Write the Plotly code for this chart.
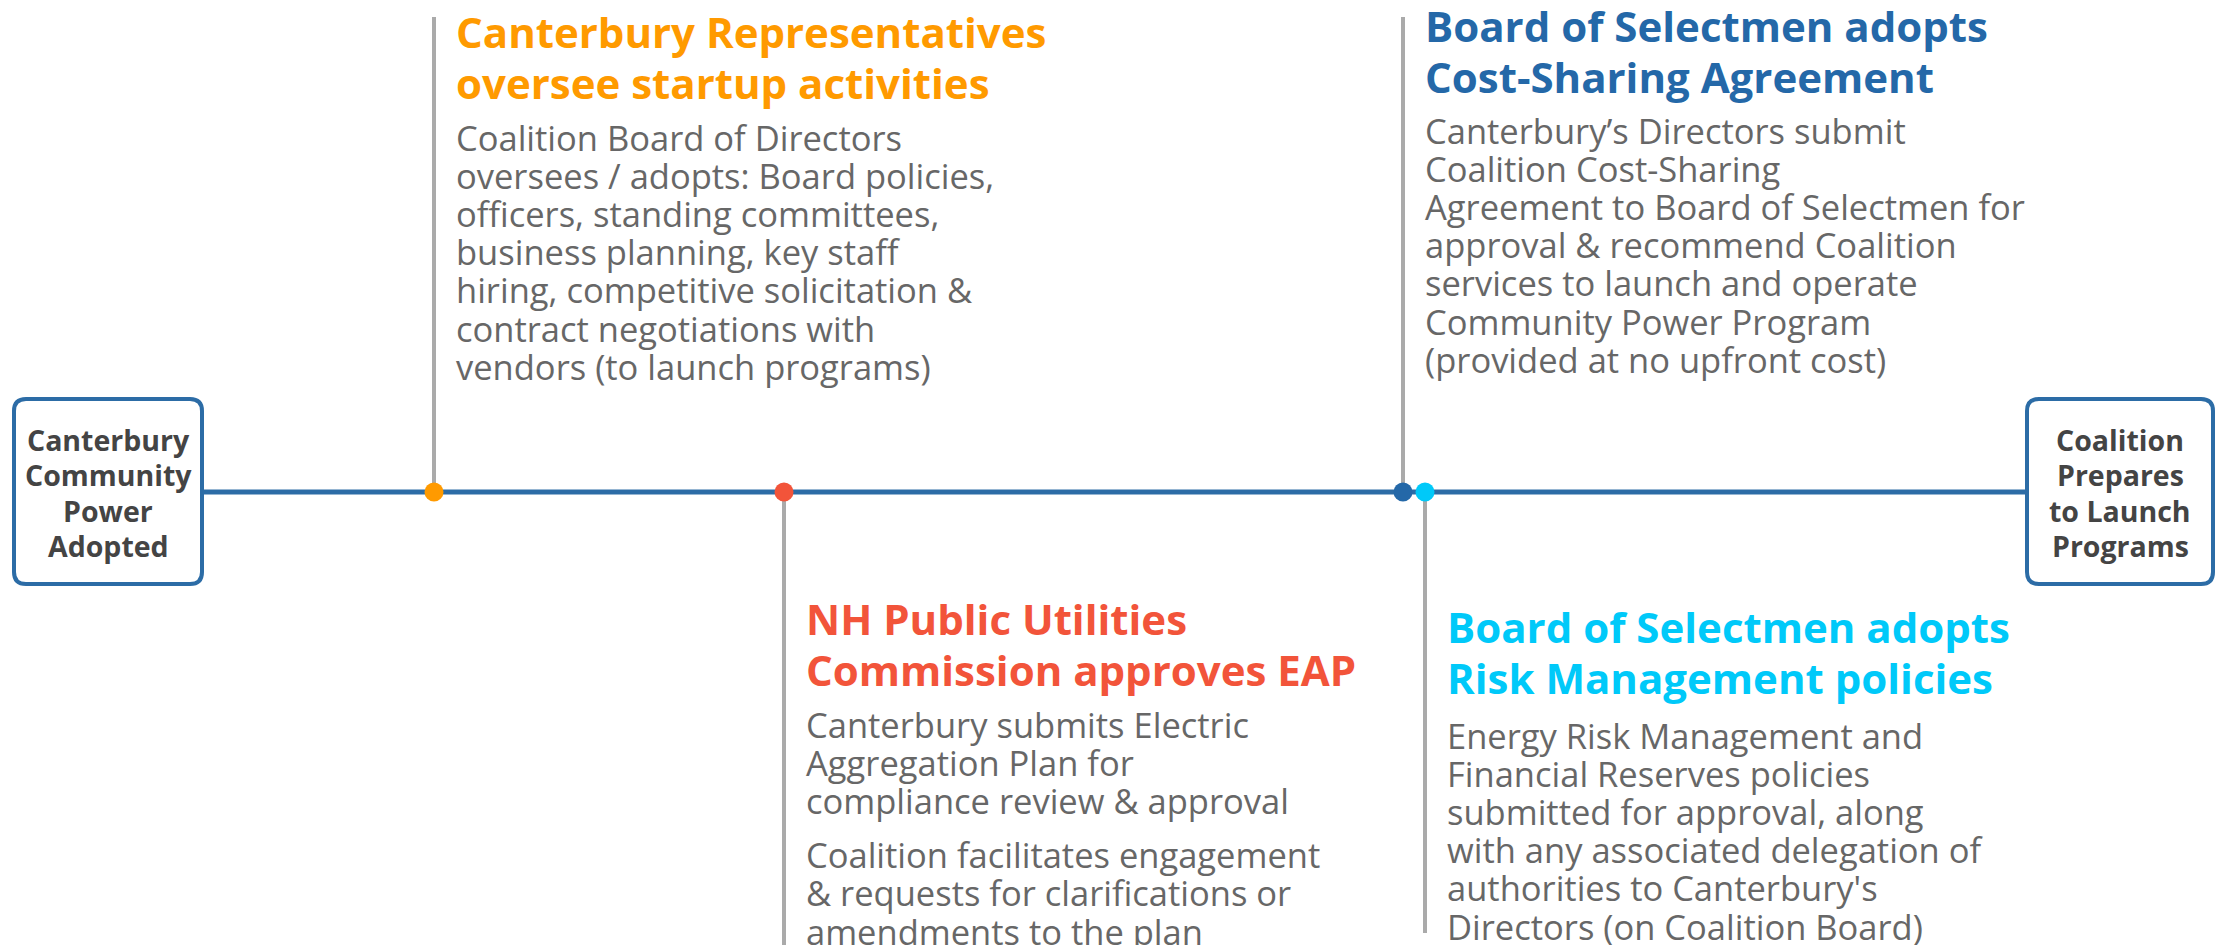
import plotly.graph_objects as go

# timeline events (x position along the 2216px-wide line)
event_x = [434, 784, 1403, 1425]
event_side = ["up", "down", "up", "down"]
event_colors = ["#FF9A00", "#F2543A", "#2468A8", "#00C9F9"]
stem_end = [17, 945, 17, 933]

event_titles = [
    ["Canterbury Representatives", "oversee startup activities"],
    ["NH Public Utilities", "Commission approves EAP"],
    ["Board of Selectmen adopts", "Cost-Sharing Agreement"],
    ["Board of Selectmen adopts", "Risk Management policies"],
]
event_bodies = [
    [["Coalition Board of Directors", "oversees / adopts: Board policies,",
      "officers, standing committees,", "business planning, key staff",
      "hiring, competitive solicitation &", "contract negotiations with",
      "vendors (to launch programs)"]],
    [["Canterbury submits Electric", "Aggregation Plan for",
      "compliance review & approval"],
     ["Coalition facilitates engagement", "& requests for clarifications or",
      "amendments to the plan"]],
    [["Canterbury\u2019s Directors submit", "Coalition Cost-Sharing",
      "Agreement to Board of Selectmen for", "approval & recommend Coalition",
      "services to launch and operate", "Community Power Program",
      "(provided at no upfront cost)"]],
    [["Energy Risk Management and", "Financial Reserves policies",
      "submitted for approval, along", "with any associated delegation of",
      "authorities to Canterbury's", "Directors (on Coalition Board)"]],
]
# vertical centre of first title line / first body line of each block
title_top = [31, 618, 25, 626]
body_top = [137, 724, 130, 735]

start_label = ["Canterbury", "Community", "Power", "Adopted"]
end_label = ["Coalition", "Prepares", "to Launch", "Programs"]

W, H = 2216, 945
LINE_Y = 492
BLUE = "#2C6CA6"
GREY_TEXT = "#676767"
FONT = "Open Sans"

fig = go.Figure()

# main timeline
fig.add_trace(go.Scatter(x=[202, 2027], y=[LINE_Y, LINE_Y], mode="lines",
                         line=dict(color=BLUE, width=5), hoverinfo="skip"))

# stems
for x, end in zip(event_x, stem_end):
    fig.add_trace(go.Scatter(x=[x, x], y=[LINE_Y, end], mode="lines",
                             line=dict(color="#AAAAAA", width=4), hoverinfo="skip"))

# dots
fig.add_trace(go.Scatter(x=event_x, y=[LINE_Y] * len(event_x), mode="markers",
                         marker=dict(color=event_colors, size=19, line=dict(width=0)),
                         hoverinfo="skip"))


def rounded_box(x0, y0, x1, y1, r=12):
    return (f"M {x0+r},{y0} L {x1-r},{y0} Q {x1},{y0} {x1},{y0+r} "
            f"L {x1},{y1-r} Q {x1},{y1} {x1-r},{y1} L {x0+r},{y1} "
            f"Q {x0},{y1} {x0},{y1-r} L {x0},{y0+r} Q {x0},{y0} {x0+r},{y0} Z")


annotations = []

for x0, x1, lines in [(14, 202, start_label), (2027, 2213, end_label)]:
    fig.add_shape(type="path", path=rounded_box(x0, 399, x1, 584),
                  line=dict(color=BLUE, width=4), fillcolor="white")
    for i, txt in enumerate(lines):
        annotations.append(dict(x=(x0 + x1) / 2, y=440 + i * 35.3, text=f"<b>{txt}</b>",
                                xanchor="center", yanchor="middle", showarrow=False,
                                font=dict(family=FONT, size=28.5, color="#444444")))

for k in range(len(event_x)):
    tx = event_x[k] + 20
    for i, txt in enumerate(event_titles[k]):
        annotations.append(dict(x=tx, y=title_top[k] + i * 51, text=f"<b>{txt}</b>",
                                xanchor="left", yanchor="middle", showarrow=False,
                                font=dict(family=FONT, size=42, color=event_colors[k])))
    y = body_top[k]
    for para in event_bodies[k]:
        for txt in para:
            annotations.append(dict(x=tx, y=y, text=txt, xanchor="left",
                                    yanchor="middle", showarrow=False,
                                    font=dict(family=FONT, size=34.5, color=GREY_TEXT)))
            y += 38.2
        y += 16

fig.update_layout(
    width=W, height=H,
    margin=dict(l=0, r=0, t=0, b=0),
    paper_bgcolor="white", plot_bgcolor="white",
    showlegend=False,
    xaxis=dict(range=[0, W], visible=False, fixedrange=True),
    yaxis=dict(range=[H, 0], visible=False, fixedrange=True),
    annotations=annotations,
)

fig.write_html("out.html", config={"displayModeBar": False},
               post_script="document.body.style.margin='0';")
